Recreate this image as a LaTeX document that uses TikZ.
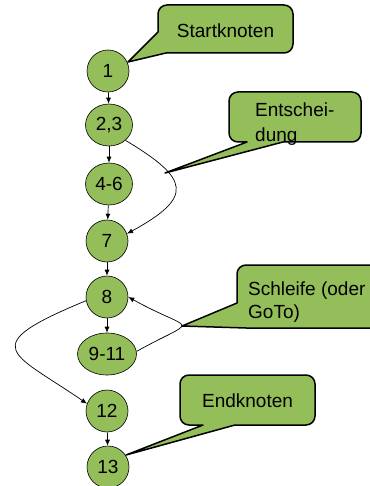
\documentclass[tikz,border=0pt]{standalone}
\usepackage{fontspec}
\setmainfont{Liberation Sans}
\usetikzlibrary{arrows.meta,shapes.geometric}
\definecolor{knotgruen}{RGB}{148,190,90}

\begin{document}
\begin{tikzpicture}[x=1pt,y=-1pt,>={Latex[length=6pt,width=5pt]},
    knoten/.style={ellipse,draw=black,line width=0.6pt,fill=knotgruen,inner sep=0pt,
      minimum width=42pt,minimum height=42pt,font=\fontsize{19}{23}\selectfont},
    blase/.style={fill=knotgruen,draw=black,line width=1.5pt,line join=round},
    blasetext/.style={inner sep=0pt,align=left},
    kante/.style={->,line width=0.7pt}]
    \useasboundingbox (0,0) rectangle (369,486);
    \fill[white] (0,0) rectangle (369,486);

    % Knoten
    \node[knoten] (n1) at (108,71) {1};
    \node[knoten,minimum width=47pt] (n23) at (109,125) {2,3};
    \node[knoten,minimum width=47pt] (n46) at (109,184) {4-6};
    \node[knoten] (n7) at (107,241) {7};
    \node[knoten] (n8) at (107,297) {8};
    \node[knoten,minimum width=59pt] (n911) at (107,354) {9-11};
    \node[knoten] (n12) at (107,411) {12};
    \node[knoten] (n13) at (108,467) {13};

    % Kanten
    \foreach \a/\b in {n1/n23,n23/n46,n46/n7,n7/n8,n8/n911,n12/n13}
      \draw[kante] (\a) -- (\b);
    \draw[kante] (n23.-43) .. controls (190,179) and (194,197) .. (n7.20);
    \draw[kante] (n911.5) .. controls (200,316) and (195,334) .. (n8.east);
    \draw[kante] (n8.190) .. controls (-26,347) and (12,352) .. (n12.160);

    % Sprechblasen
    \draw[blase] (158,32) -- (158,14) arc[start angle=180,end angle=90,radius=9pt]
      -- (284,5) arc[start angle=90,end angle=0,radius=9pt]
      -- (293,44) arc[start angle=0,end angle=-90,radius=9pt]
      -- (166,53) -- (128,62) -- cycle;
    \node[blasetext,anchor=base] (tstart) at (225.5,38)
      {\fontsize{19}{23}\selectfont Startknoten};

    \draw[blase] (247,142) -- (238,142) arc[start angle=-90,end angle=-180,radius=9pt]
      -- (229,101) arc[start angle=180,end angle=90,radius=9pt]
      -- (352,92) arc[start angle=90,end angle=0,radius=9pt]
      -- (361,133) arc[start angle=0,end angle=-90,radius=9pt]
      -- (283,142) -- (165,173) -- cycle;
    \node[blasetext,anchor=north west,font=\fontsize{19}{25}\selectfont] (tentsch)
      at (255,103) {Entschei-\\dung};

    \draw[blase] (237,303) -- (237,274) arc[start angle=180,end angle=90,radius=9pt]
      -- (385,265) -- (385,328) -- (246,328) -- (182,326) -- cycle;
    \node[blasetext,anchor=north west,font=\fontsize{19}{23}\selectfont] (tschleife)
      at (248,281.5) {Schleife (oder\\GoTo)};

    \draw[blase] (203,425) -- (189,425) arc[start angle=-90,end angle=-180,radius=9pt]
      -- (180,384) arc[start angle=180,end angle=90,radius=9pt]
      -- (306,375) arc[start angle=90,end angle=0,radius=9pt]
      -- (315,416) arc[start angle=0,end angle=-90,radius=9pt]
      -- (235,425) -- (126,455) -- cycle;
    \node[blasetext,anchor=base] (tend) at (247.5,407)
      {\fontsize{19}{23}\selectfont Endknoten};
\end{tikzpicture}
\end{document}
